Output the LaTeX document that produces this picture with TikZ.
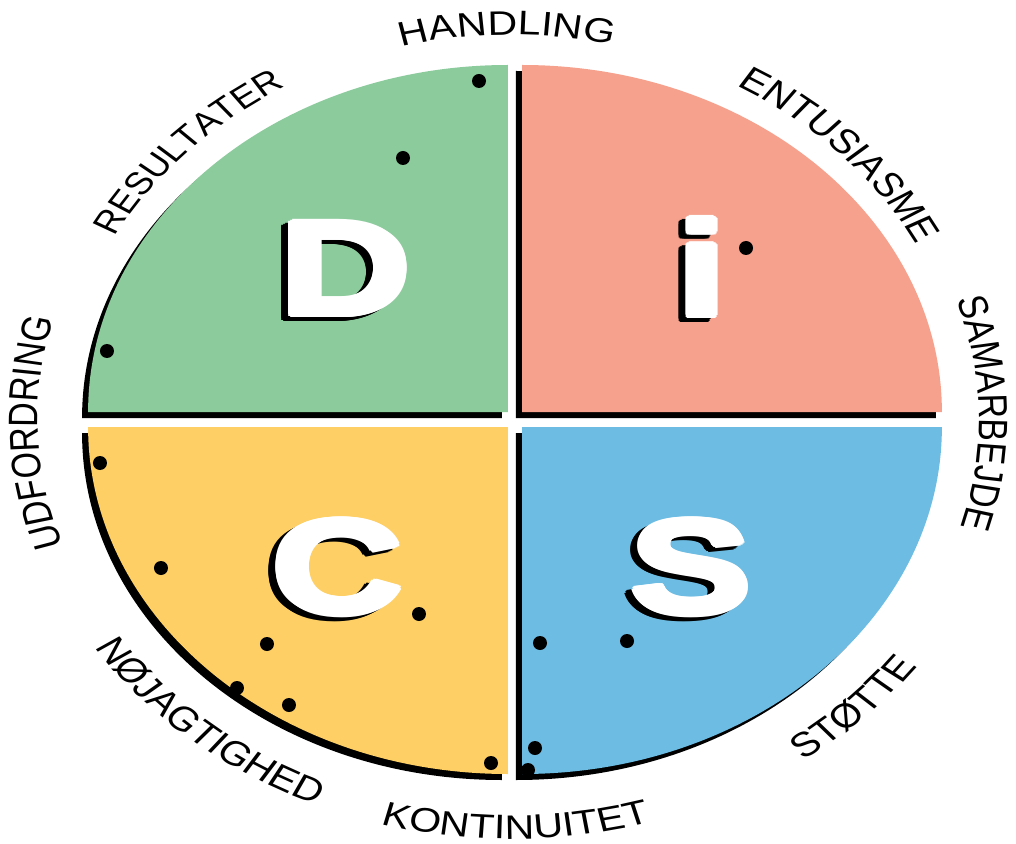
\documentclass[tikz,border=0pt]{standalone}
\usepackage{fontspec}
\setmainfont{Liberation Sans}
\usepackage{graphicx}
\usetikzlibrary{decorations.text}
\definecolor{dgreen}{HTML}{8BCB9C}
\definecolor{ipink}{HTML}{F5A18D}
\definecolor{cyellow}{HTML}{FDCF65}
\definecolor{sblue}{HTML}{6CBCE3}
\newcommand\labfont{\fontsize{34}{34}\selectfont}
\newcommand\smlabfont{\fontsize{31.5}{31.5}\selectfont}
\newcommand\letfont{\fontsize{134}{134}\selectfont\bfseries}
\newcommand\discletter[4]{% name, x, y, text
  \foreach \k in {0,30,...,330} {
    \node[letter, text=black] (#1s\k) at ({#2-5.8+3*cos(\k)},{#3-4+3*sin(\k)}) {\scalebox{1.12}[1]{#4}};
  }
  \foreach \k in {0,30,...,330} {
    \node[letter, text=white] (#1w\k) at ({#2+3*cos(\k)},{#3+3*sin(\k)}) {\scalebox{1.12}[1]{#4}};
  }
  \node[letter, text=white] (#1) at (#2,#3) {\scalebox{1.12}[1]{#4}};
}
\newcommand\toplab[3]{% angle, x radius, text
  \path[decorate,decoration={text along path,text align=center,text={#3}}]
    ({-2.5+#2*cos(#1+40)},{385*sin(#1+40)}) arc[start angle={#1+40},end angle={#1-40},x radius=#2,y radius=385];
}
\newcommand\botlab[3]{% angle, x radius, text
  \path[decorate,decoration={text along path,text align=center,text={|\labfont|#3}}]
    ({-2.5+#2*cos(#1-40)},{419*sin(#1-40)}) arc[start angle={#1-40},end angle={#1+40},x radius=#2,y radius=419];
}
\begin{document}
\begin{tikzpicture}[x=1pt,y=1pt,
  letter/.style={inner sep=0pt, anchor=base, font=\letfont},
  dot/.style={circle, fill=black, inner sep=0pt, minimum size=14pt},
  shadowed/.style={fill=black, shift={(-5,-6)}}]
\fill[white] (-515,-423) rectangle (501,420);
\useasboundingbox (-515,-423) rectangle (501,420);
\begin{scope}[transform canvas={xscale=1.21}]
  % shadows
  \fill[shadowed] (-5.8,8) -- ++(-347,0) arc[start angle=180,end angle=90,radius=347] -- cycle;
  \fill[shadowed] (5.8,8) -- ++(347,0) arc[start angle=0,end angle=90,radius=347] -- cycle;
  \fill[shadowed] (-5.8,-7) -- ++(-347,0) arc[start angle=180,end angle=270,radius=347] -- cycle;
  \fill[shadowed] (5.8,-7) -- ++(347,0) arc[start angle=0,end angle=-90,radius=347] -- cycle;
  % quadrants
  \fill[dgreen] (-5.8,8) -- ++(-347,0) arc[start angle=180,end angle=90,radius=347] -- cycle;
  \fill[ipink] (5.8,8) -- ++(347,0) arc[start angle=0,end angle=90,radius=347] -- cycle;
  \fill[cyellow] (-5.8,-7) -- ++(-347,0) arc[start angle=180,end angle=270,radius=347] -- cycle;
  \fill[sblue] (5.8,-7) -- ++(347,0) arc[start angle=0,end angle=-90,radius=347] -- cycle;
  % letters
  \discletter{D}{-140}{105}{D}
  \discletter{I}{154.5}{104}{i}
  \discletter{C}{-146.7}{-193}{C}
  \discletter{S}{145.5}{-193}{S}
  % labels
  \toplab{90.6}{377}{|\labfont|HANDLING}
  \toplab{135.5}{373}{|\smlabfont|RESULTATER}
  \toplab{44}{375}{|\labfont|ENTUSIASME}
  \toplab{181.9}{392}{|\labfont|UDFORDRING}
  \toplab{1}{386}{|\labfont|SAMARBEJDE}
  \botlab{230}{410}{NØJAGTIGHED}
  \botlab{-89.5}{410}{KONTINUITET}
  \botlab{-45.3}{414}{STØTTE}
\end{scope}
% dots
\node[dot] (d1) at (-36,339) {};
\node[dot] (d2) at (-112,262) {};
\node[dot] (d3) at (-408,69) {};
\node[dot] (i1) at (231,172) {};
\node[dot] (c1) at (-415,-43) {};
\node[dot] (c2) at (-354,-148) {};
\node[dot] (c3) at (-96,-194) {};
\node[dot] (c4) at (-248,-224) {};
\node[dot] (c5) at (-278,-268) {};
\node[dot] (c6) at (-226,-285) {};
\node[dot] (c7) at (-24,-343) {};
\node[dot] (s1) at (25,-223) {};
\node[dot] (s2) at (112,-221) {};
\node[dot] (s3) at (20,-328) {};
\node[dot] (s4) at (13,-350) {};
\end{tikzpicture}
\end{document}
